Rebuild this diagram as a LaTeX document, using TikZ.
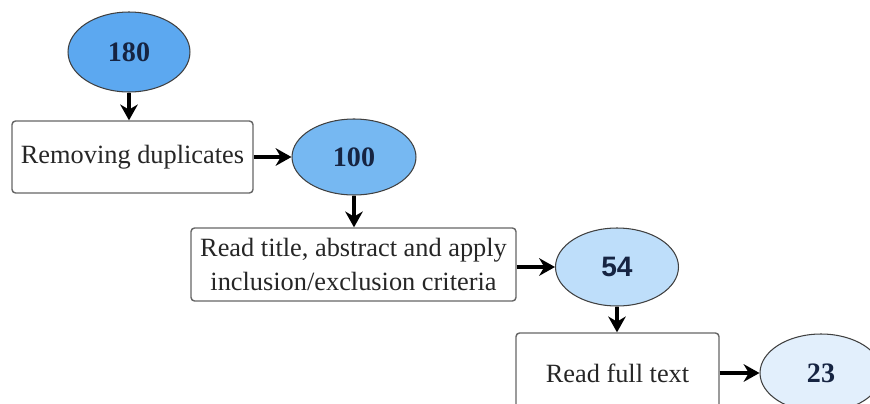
\documentclass[tikz,border=0pt]{standalone}
\usepackage{fontspec}
\setmainfont{Liberation Serif}
\newfontfamily\numsans{Liberation Sans}
\usetikzlibrary{shapes.geometric,arrows.meta}

\definecolor{blueA}{RGB}{92,168,240}
\definecolor{blueB}{RGB}{118,184,242}
\definecolor{blueC}{RGB}{190,222,250}
\definecolor{blueD}{RGB}{226,239,252}
\definecolor{numcol}{RGB}{22,36,66}

\tikzset{
	count/.style={ellipse,draw=black!75,line width=0.6pt,inner sep=0pt,
		font=\fontsize{16}{18}\selectfont\bfseries,text=numcol},
	stepbox/.style={rectangle,rounded corners=2pt,draw=black!60,line width=0.8pt,
		fill=white,align=center,font=\fontsize{15}{19}\selectfont,text=black!85},
	flow/.style={-{Stealth[length=9pt,width=10pt]},line width=1.8pt}
}

\begin{document}
\begin{tikzpicture}[x=0.02cm,y=-0.02cm]
			\useasboundingbox (0,0) rectangle (870,403);
			\clip (0,0) rectangle (870,403);
			
			% Counts
			\node[count,fill=blueA,minimum width=2.44cm,minimum height=1.6cm] (n180) at (129,52) {180};
			\node[count,fill=blueB,minimum width=2.48cm,minimum height=1.52cm] (n100) at (354,157) {100};
			\node[count,fill=blueC,minimum width=2.46cm,minimum height=1.56cm] (n54) at (617,267) {\numsans 54};
			\node[count,fill=blueD,minimum width=2.44cm,minimum height=1.56cm] (n23) at (821,373) {23};
			
			% Steps
			\node[stepbox,minimum width=4.82cm,minimum height=1.44cm] (dup) at (132.5,157) {Removing duplicates};
			\node[stepbox,minimum width=6.5cm,minimum height=1.46cm] (title) at (353.5,264.5) {Read title, abstract and apply\\inclusion/exclusion criteria};
			\node[stepbox,minimum width=4.06cm,minimum height=1.6cm] (full) at (617.5,373) {Read full text};
			
			% Arrows
			\draw[flow] (n180) -- (n180 |- dup.north);
			\draw[flow] (dup) -- (n100);
			\draw[flow] (n100) -- (n100 |- title.north);
			\draw[flow] (title.east |- n54) -- (n54);
			\draw[flow] (n54) -- (n54 |- full.north);
			\draw[flow] (full) -- (n23);
\end{tikzpicture}
\end{document}
